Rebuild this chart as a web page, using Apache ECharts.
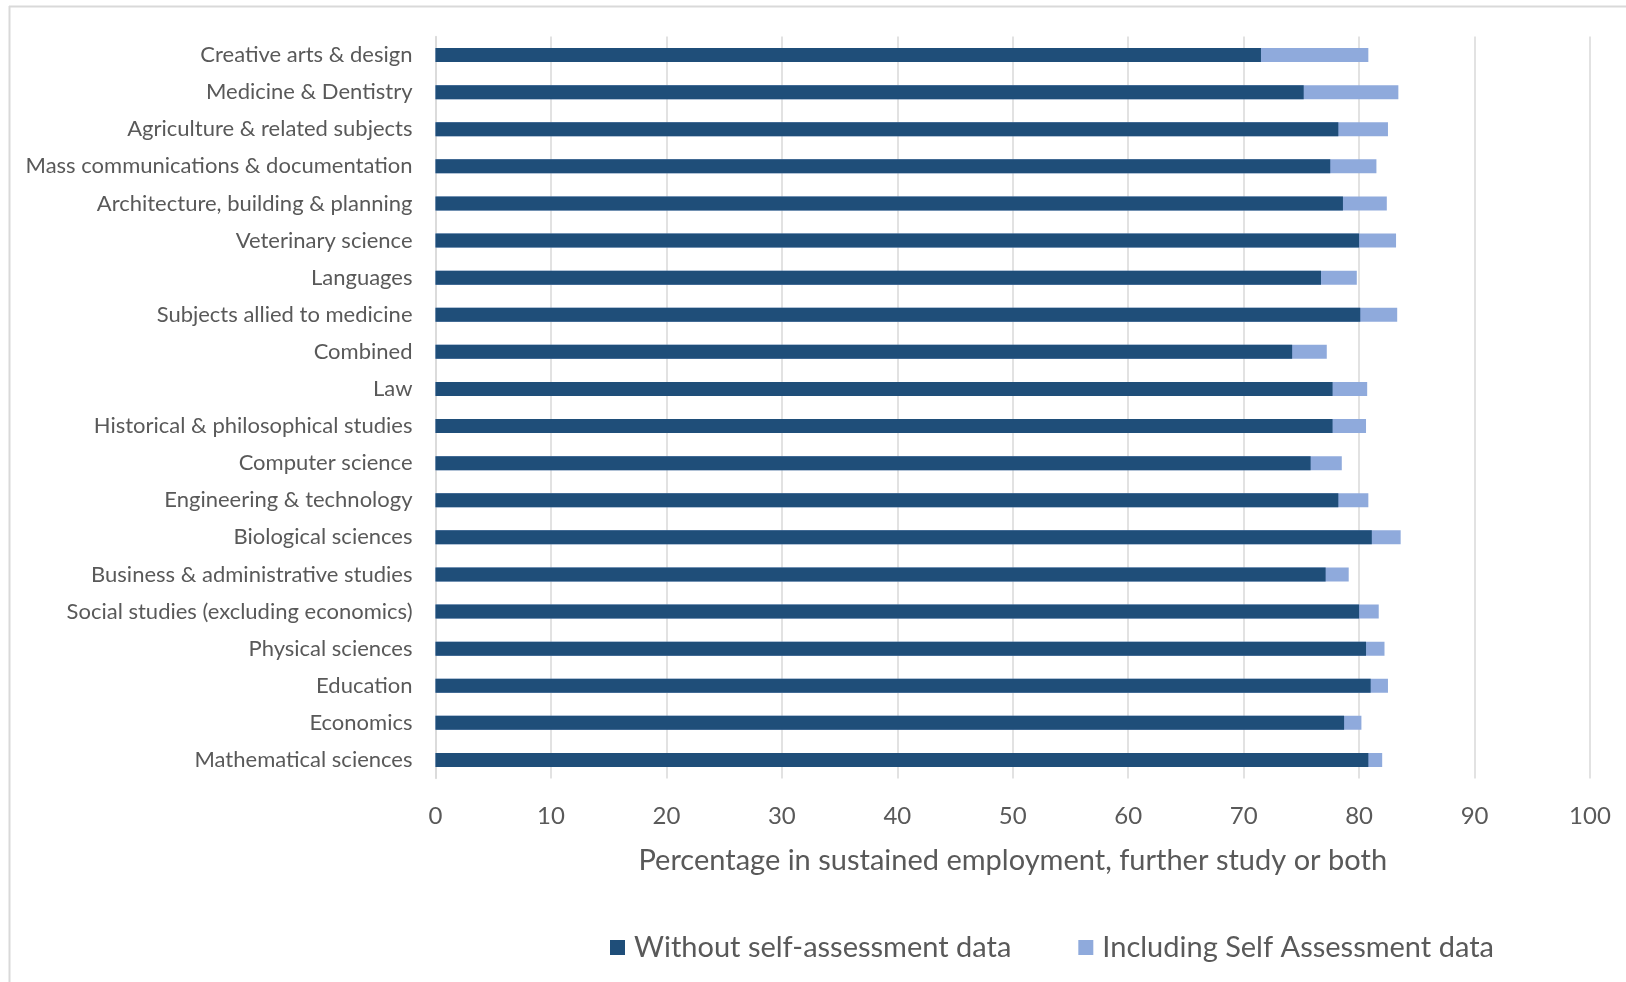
<!DOCTYPE html>
<html>
<head>
<meta charset="utf-8">
<script src="https://cdn.jsdelivr.net/npm/echarts@6/dist/echarts.min.js"></script>
<style>
  html, body { margin: 0; padding: 0; background: #ffffff; }
  #chart { width: 1626px; height: 982px; }
</style>
</head>
<body>
<div id="chart"></div>
<script>
// Subject areas, listed top to bottom
const subjects = [
  'Creative arts & design',
  'Medicine & Dentistry',
  'Agriculture & related subjects',
  'Mass communications & documentation',
  'Architecture, building & planning',
  'Veterinary science',
  'Languages',
  'Subjects allied to medicine',
  'Combined',
  'Law',
  'Historical & philosophical studies',
  'Computer science',
  'Engineering & technology',
  'Biological sciences',
  'Business & administrative studies',
  'Social studies (excluding economics)',
  'Physical sciences',
  'Education',
  'Economics',
  'Mathematical sciences'
];

// Percentage in sustained employment, further study or both
const withoutSelfAssessment = [
  71.5, 75.2, 78.2, 77.5, 78.6, 80.0, 76.7, 80.1, 74.2, 77.7,
  77.7, 75.8, 78.2, 81.1, 77.1, 80.0, 80.6, 81.0, 78.7, 80.8
];
const includingSelfAssessment = [
  80.8, 83.4, 82.5, 81.5, 82.4, 83.2, 79.8, 83.3, 77.2, 80.7,
  80.6, 78.5, 80.8, 83.6, 79.1, 81.7, 82.2, 82.5, 80.2, 82.0
];

const axisTicks = [0, 10, 20, 30, 40, 50, 60, 70, 80, 90, 100];

const seriesNames = ['Without self-assessment data', 'Including Self Assessment data'];
const textColor = '#595959';
const fontFamily = 'Lato, "Open Sans", sans-serif';

const chart = echarts.init(document.getElementById('chart'), null, { renderer: 'canvas' });

chart.setOption({
  backgroundColor: '#ffffff',
  animation: false,
  graphic: [
    // outer chart-area frame (left and top edges)
    { type: 'line', shape: { x1: 9.5, y1: 6, x2: 9.5, y2: 982 }, style: { stroke: '#d9d9d9', lineWidth: 2 }, silent: true },
    { type: 'line', shape: { x1: 9, y1: 6.5, x2: 1626, y2: 6.5 }, style: { stroke: '#d9d9d9', lineWidth: 2 }, silent: true }
  ],
  grid: { left: 435.5, right: 36, top: 36.5, bottom: 203.5, containLabel: false },
  legend: {
    data: seriesNames,
    left: 610,
    top: 933,
    padding: 0,
    itemWidth: 15,
    itemHeight: 15,
    itemGap: 67,
    icon: 'rect',
    textStyle: { color: textColor, fontSize: 29, fontFamily: fontFamily, padding: [0, 0, 0, 4] }
  },
  xAxis: {
    type: 'value',
    min: axisTicks[0],
    max: axisTicks[axisTicks.length - 1],
    interval: axisTicks[1] - axisTicks[0],
    name: 'Percentage in sustained employment, further study or both',
    nameLocation: 'middle',
    nameGap: 68,
    nameTextStyle: { color: textColor, fontSize: 29, fontFamily: fontFamily },
    axisLine: { show: false },
    axisTick: { show: false },
    axisLabel: { color: textColor, fontSize: 24, fontFamily: fontFamily, margin: 26 },
    splitLine: { show: true, lineStyle: { color: '#d9d9d9', width: 1.5 } }
  },
  yAxis: {
    type: 'category',
    data: subjects,
    inverse: true,
    axisLine: { show: true, lineStyle: { color: '#d9d9d9', width: 1.5 } },
    axisTick: { show: false },
    axisLabel: { color: textColor, fontSize: 22, fontFamily: fontFamily, margin: 23 },
    splitLine: { show: false }
  },
  series: [
    {
      // drawn first so the other series sits on top of it
      name: seriesNames[1],
      type: 'bar',
      data: includingSelfAssessment,
      barWidth: 14,
      barGap: '-100%',
      itemStyle: { color: '#8faadc' }
    },
    {
      name: seriesNames[0],
      type: 'bar',
      data: withoutSelfAssessment,
      barWidth: 14,
      barGap: '-100%',
      itemStyle: { color: '#1f4e79' }
    }
  ]
});
</script>
</body>
</html>
